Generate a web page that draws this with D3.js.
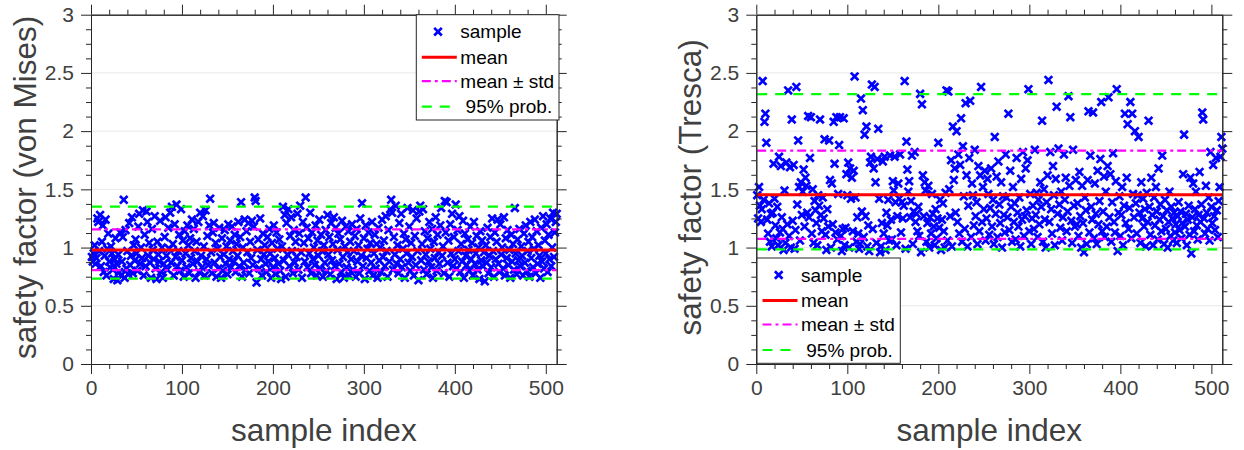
<!DOCTYPE html>
<html>
<head>
<meta charset="utf-8">
<script src="https://cdn.jsdelivr.net/npm/d3@7"></script>
<style>
  body { margin: 0; background: #fff; }
  svg { display: block; font-family: "Liberation Sans", Arial, Helvetica, sans-serif; }
</style>
</head>
<body>
<svg id="chart" width="1244" height="450"></svg>
<script>
// samples, index 1..512
const vonMises = [
  0.92,0.88,0.95,1.02,0.86,0.91,1.25,1.22,0.97,1.28,0.84,1.05,1.19,0.79,0.93,1.24,
  0.76,0.99,1.12,0.88,0.83,1.01,0.95,0.81,0.73,0.90,1.08,0.86,0.72,0.94,0.79,1.13,
  0.76,0.88,1.09,1.41,0.74,1.15,0.82,0.97,0.77,1.21,0.85,0.93,1.26,0.78,1.02,0.89,
  1.07,0.95,0.80,1.18,1.29,0.86,1.00,0.91,1.32,0.76,1.11,0.84,1.31,1.22,0.93,1.04,
  0.87,0.74,1.16,0.98,0.90,1.27,0.82,0.73,1.05,0.94,0.88,1.23,0.79,1.00,0.74,0.86,
  1.09,1.26,0.93,0.81,1.17,0.99,1.30,0.87,1.35,1.03,0.76,1.20,0.92,1.37,0.84,0.97,
  1.11,0.80,1.33,0.89,1.06,0.75,1.14,0.95,0.83,1.19,1.02,0.78,1.08,0.91,1.24,0.86,
  1.16,0.97,0.74,1.05,0.88,1.22,0.79,1.30,0.93,0.83,1.27,1.01,0.76,1.32,0.90,1.10,
  0.85,1.19,1.42,0.96,0.78,1.13,1.21,0.87,1.04,0.75,0.99,0.82,1.17,0.92,0.74,1.08,
  0.80,0.94,1.15,0.86,1.01,0.77,1.20,0.90,1.06,0.83,1.18,0.97,0.88,1.11,0.79,1.03,
  0.93,1.22,0.84,1.09,1.39,0.75,1.00,0.87,1.24,0.81,1.14,0.96,1.21,0.78,1.05,0.91,
  1.23,0.85,1.18,1.43,1.40,0.70,0.98,1.07,0.82,1.25,0.90,0.76,1.12,0.94,1.02,0.86,
  0.79,1.09,0.88,1.16,0.95,0.74,1.04,0.83,1.19,0.91,0.77,1.13,0.99,0.86,1.07,0.80,
  0.73,1.01,1.35,0.89,1.28,0.75,1.21,0.94,1.33,0.84,1.10,1.26,0.97,0.78,1.15,0.87,
  1.05,0.92,1.29,0.81,1.12,1.36,0.96,0.74,1.22,1.04,0.88,1.43,1.17,0.83,1.08,0.95,
  1.30,0.78,1.13,0.90,1.00,0.85,1.19,0.76,1.06,0.93,1.24,0.82,1.11,0.97,0.75,1.02,
  0.87,1.15,0.80,1.28,0.94,1.09,0.77,1.21,0.89,1.03,1.26,0.84,1.17,0.73,0.98,1.12,
  0.86,1.07,0.79,1.23,0.92,0.74,1.01,1.18,0.83,0.96,1.14,0.76,1.05,0.90,1.20,0.81,
  0.97,1.10,0.75,1.16,0.88,1.02,0.78,1.25,0.93,1.38,0.84,1.08,0.73,1.19,0.91,0.99,
  1.13,0.80,1.04,0.87,1.22,0.76,0.95,1.11,0.82,1.03,0.74,1.17,0.89,1.00,0.79,1.24,
  0.92,1.06,0.84,1.27,0.97,0.75,1.15,0.88,1.33,1.41,1.30,0.81,1.09,0.94,1.36,0.86,
  1.02,0.78,1.21,0.90,1.29,0.83,0.99,1.12,0.74,1.07,0.95,1.34,0.87,1.18,0.80,1.04,
  0.92,1.32,0.76,1.10,0.85,1.25,0.97,0.72,1.31,1.36,0.89,1.03,1.33,0.81,1.14,0.94,
  0.77,1.08,0.88,1.22,0.99,0.83,1.16,0.74,1.05,0.91,1.26,0.80,1.11,0.96,0.86,1.19,
  1.34,0.93,1.01,0.78,1.40,1.13,1.39,0.87,1.06,0.75,1.20,0.95,1.29,0.84,1.09,0.90,
  1.37,0.82,1.15,0.97,1.27,0.79,1.03,0.88,1.23,0.74,1.12,0.93,0.85,1.07,0.98,0.80,
  1.18,0.90,1.04,0.76,1.22,0.86,0.95,1.10,0.81,1.00,0.73,1.14,0.89,1.06,0.84,0.96,
  0.71,1.02,0.87,1.17,0.78,0.93,1.09,0.83,1.25,0.97,0.75,1.13,0.90,1.05,1.24,0.86,
  0.79,1.20,0.94,1.00,0.82,1.26,0.76,1.08,0.91,1.15,0.85,0.98,0.74,1.11,0.88,1.03,
  0.81,1.34,0.95,0.77,1.07,0.89,1.16,0.84,1.01,0.93,0.76,1.12,0.87,1.19,0.80,0.97,
  1.05,0.75,1.22,0.91,1.09,0.83,0.99,1.24,0.78,1.14,0.86,1.02,0.93,0.74,1.17,0.88,
  1.27,0.82,1.06,0.95,1.20,0.79,1.11,0.90,1.25,0.84,1.00,1.30,0.92,1.13,1.22,1.29
];

const tresca = [
  1.45,1.25,1.52,1.36,1.22,1.33,2.43,1.41,2.08,2.15,1.90,1.24,1.12,1.38,1.05,1.29,
  1.01,1.30,1.72,1.42,1.19,1.08,1.35,1.02,1.78,1.13,1.70,1.26,1.16,0.98,1.49,1.04,
  1.73,1.20,2.35,1.10,1.69,1.00,2.10,1.23,1.71,0.99,1.15,2.38,1.37,1.92,1.52,1.06,
  1.56,1.28,1.48,1.67,1.18,1.60,1.53,1.30,2.13,1.26,1.77,2.12,1.12,1.50,1.04,1.40,
  1.32,1.21,1.02,1.45,1.36,2.10,1.28,1.14,1.43,1.25,1.93,1.11,0.98,1.33,1.18,1.92,
  1.58,1.00,1.55,1.20,2.08,1.72,1.13,2.12,1.07,1.46,1.88,2.12,1.10,0.97,1.16,2.11,
  1.02,1.17,1.63,1.45,1.73,1.00,1.68,1.42,1.60,1.14,1.66,2.47,1.43,1.05,1.26,1.12,
  0.99,1.03,2.28,1.31,2.18,1.09,1.97,1.27,2.04,1.01,1.19,0.97,1.73,1.78,2.40,1.16,
  1.68,2.38,1.56,1.04,1.76,2.02,1.42,0.96,1.01,1.21,1.74,1.12,1.78,0.98,1.30,1.19,
  1.41,1.06,1.79,1.24,1.07,1.57,1.49,1.78,1.39,1.02,1.27,1.55,1.42,1.80,1.13,1.39,
  1.25,1.36,2.43,0.99,1.91,1.67,1.48,1.57,1.26,1.40,1.79,1.03,1.31,1.82,1.22,1.29,
  1.14,1.35,1.10,2.32,0.96,2.23,1.62,1.27,1.56,1.49,1.05,1.21,1.53,1.00,1.26,1.12,
  1.46,1.29,1.18,1.02,1.33,1.08,1.25,1.90,1.17,1.41,0.98,1.24,1.38,1.14,1.00,1.47,
  2.35,1.06,2.34,1.50,1.27,1.75,1.01,2.04,1.58,1.68,1.30,2.00,1.22,1.80,1.12,1.71,
  2.11,1.05,1.87,1.44,1.16,2.24,1.62,1.01,1.36,1.77,2.26,1.09,1.55,1.45,1.19,1.84,
  1.27,1.39,1.03,1.70,1.14,1.62,2.38,1.22,1.52,1.33,1.66,1.06,1.25,1.59,1.46,1.11,
  1.34,1.68,1.18,1.41,1.03,1.95,1.29,1.61,1.09,1.74,1.37,1.21,1.56,1.00,1.44,1.28,
  1.13,1.80,1.43,1.26,2.15,1.15,1.66,1.35,1.05,1.52,1.22,1.38,1.07,1.77,1.30,1.18,
  1.43,1.01,1.59,1.24,1.82,1.10,1.27,1.68,1.32,1.75,2.36,1.14,1.46,1.03,1.25,1.36,
  1.16,1.84,1.28,1.47,1.09,1.41,1.20,1.56,1.35,2.09,1.05,1.50,1.24,1.00,1.39,1.62,
  2.44,1.22,1.82,1.33,1.12,1.70,1.45,1.02,1.59,2.21,1.29,1.85,1.37,1.17,1.48,1.06,
  1.26,1.80,1.41,1.60,1.14,1.31,2.30,1.53,2.12,1.23,1.04,1.84,1.36,1.18,1.58,1.20,
  1.38,1.10,1.65,1.27,1.00,1.53,1.21,0.96,1.43,1.32,1.03,1.58,2.17,1.13,1.79,1.35,
  1.24,2.16,1.08,1.55,1.29,1.03,1.66,1.20,1.40,1.76,2.25,1.14,1.31,1.61,1.09,1.48,
  1.18,1.70,2.29,1.26,1.63,1.05,1.39,1.81,1.22,1.13,1.57,2.36,0.97,1.30,1.44,1.10,
  1.28,1.52,1.02,1.36,2.15,1.21,1.60,2.06,1.16,1.34,2.25,1.08,2.15,1.46,1.26,2.00,
  1.38,1.12,1.45,1.95,1.30,1.04,1.56,1.25,1.42,1.18,1.33,1.01,1.47,1.22,2.09,1.35,
  1.11,1.60,1.28,1.02,1.43,1.19,1.52,1.31,1.07,1.68,1.24,1.37,1.14,1.79,1.27,1.03,
  1.41,1.16,1.32,1.00,1.22,1.48,1.10,1.35,1.25,1.06,1.30,1.13,1.20,1.04,1.27,1.39,
  1.15,1.31,1.08,1.21,1.63,1.97,1.18,1.29,1.02,1.24,1.36,1.11,1.60,0.95,1.26,1.55,
  1.14,1.33,1.48,1.19,1.07,1.28,1.65,1.22,1.37,2.16,2.10,1.25,1.12,1.53,1.30,1.16,
  1.43,1.06,1.82,1.35,1.21,1.71,1.27,1.15,1.77,1.32,1.09,1.40,1.52,1.78,1.95,1.85
];

// [mean, mean-std, mean+std, 2.5%, 97.5%]
const vonMisesStats = [0.979, 0.807, 1.157, 0.733, 1.351];
const trescaStats = [1.454, 1.074, 1.832, 0.985, 2.317];

const yTicks = [0, 0.5, 1, 1.5, 2, 2.5, 3];
const xTicks = [0, 100, 200, 300, 400, 500];
const legendLabels = ["sample", "mean", "mean \u00b1 std", " 95% prob."];
const yLabels = ["safety factor (von Mises)", "safety factor (Tresca)"];

const svg = d3.select("#chart");
const axisColor = "#262626";
const textColor = "#404040";

function cross(cx, cy, s) {
  return `M${cx - s},${cy - s}L${cx + s},${cy + s}M${cx - s},${cy + s}L${cx + s},${cy - s}`;
}

function drawPanel(opts) {
  const { left, top, width, height, values, stats, yLabel, yLabelX, legend } = opts;
  const g = svg.append("g");

  const x = d3.scaleLinear().domain([0, 512]).range([left, left + width]);
  const y = d3.scaleLinear().domain([0, 3]).range([top + height, top]);

  // grid
  g.append("g").selectAll("line")
    .data(yTicks.slice(1, -1))
    .join("line")
    .attr("x1", left).attr("x2", left + width)
    .attr("y1", d => y(d)).attr("y2", d => y(d))
    .attr("stroke", "#e8e8e8").attr("stroke-width", 1);

  // data
  const pts = values.map((v, i) => ({ i: i + 1, v: v }));
  g.append("g").selectAll("path")
    .data(pts)
    .join("path")
    .attr("d", d => cross(x(d.i), y(d.v), 3.8))
    .attr("stroke", "#0000ff")
    .attr("stroke-width", 2.7)
    .attr("fill", "none");

  // stat lines
  const styles = [
    { c: "#ff0000", w: 3, dash: null },
    { c: "#ff00ff", w: 2.2, dash: "9,4,3,4" },
    { c: "#ff00ff", w: 2.2, dash: "9,4,3,4" },
    { c: "#00ff00", w: 2.2, dash: "10,8" },
    { c: "#00ff00", w: 2.2, dash: "10,8" }
  ];
  const order = [3, 4, 1, 2, 0];
  order.forEach(k => {
    g.append("line")
      .attr("x1", x(1)).attr("x2", x(512))
      .attr("y1", y(stats[k])).attr("y2", y(stats[k]))
      .attr("stroke", styles[k].c)
      .attr("stroke-width", styles[k].w)
      .attr("stroke-dasharray", styles[k].dash);
  });

  // axes with major and minor ticks on all four sides
  const xMinor = d3.range(0, 513, 20).filter(d => d % 100 !== 0);
  const yMinor = d3.range(0, 3.001, 0.125).filter(d => Math.abs(d * 2 - Math.round(d * 2)) > 1e-6);

  const axB = d3.axisBottom(x).tickValues(xTicks).tickSize(10).tickSizeOuter(0).tickPadding(6).tickFormat(d3.format("d"));
  const axT = d3.axisTop(x).tickValues(xTicks).tickSize(10).tickSizeOuter(0).tickFormat("");
  const axL = d3.axisLeft(y).tickValues(yTicks).tickSize(10).tickSizeOuter(0).tickPadding(7).tickFormat(d => d);
  const axR = d3.axisRight(y).tickValues(yTicks).tickSize(10).tickSizeOuter(0).tickFormat("");

  const mB = d3.axisBottom(x).tickValues(xMinor).tickSize(5).tickSizeOuter(0).tickFormat("");
  const mT = d3.axisTop(x).tickValues(xMinor).tickSize(5).tickSizeOuter(0).tickFormat("");
  const mL = d3.axisLeft(y).tickValues(yMinor).tickSize(5).tickSizeOuter(0).tickFormat("");
  const mR = d3.axisRight(y).tickValues(yMinor).tickSize(5).tickSizeOuter(0).tickFormat("");

  const place = [
    [axB, `translate(0,${top + height})`], [mB, `translate(0,${top + height})`],
    [axT, `translate(0,${top})`], [mT, `translate(0,${top})`],
    [axL, `translate(${left},0)`], [mL, `translate(${left},0)`],
    [axR, `translate(${left + width},0)`], [mR, `translate(${left + width},0)`]
  ];
  place.forEach(([ax, tr]) => {
    const a = g.append("g").attr("transform", tr).call(ax);
    a.selectAll("path, line").attr("stroke", axisColor).attr("stroke-width", 1);
    a.selectAll("text").attr("fill", textColor).style("font-size", "21px");
  });

  // axis labels
  g.append("text")
    .attr("x", left + width / 2)
    .attr("y", 441)
    .attr("text-anchor", "middle")
    .attr("fill", textColor)
    .style("font-size", "31.5px")
    .text("sample index");

  g.append("text")
    .attr("transform", `translate(${yLabelX},${top + height / 2 - 2}) rotate(-90)`)
    .attr("text-anchor", "middle")
    .attr("fill", textColor)
    .style("font-size", "31.5px")
    .text(yLabel);

  // legend
  const lg = g.append("g").attr("transform", `translate(${legend.x},${legend.y})`);
  lg.append("rect")
    .attr("width", legend.w).attr("height", legend.h)
    .attr("fill", "#fff").attr("stroke", "#262626").attr("stroke-width", 1);
  const rowY = [17, 42.5, 66.5, 92];
  const ls = [null, styles[0], styles[1], styles[3]];
  legendLabels.forEach((lab, k) => {
    const ry = rowY[k];
    if (k === 0) {
      lg.append("path")
        .attr("d", cross(21.7, ry, 3.8))
        .attr("stroke", "#0000ff").attr("stroke-width", 2.7);
    } else {
      lg.append("line")
        .attr("x1", 5.5).attr("x2", 40.5)
        .attr("y1", ry).attr("y2", ry)
        .attr("stroke", ls[k].c)
        .attr("stroke-width", ls[k].w)
        .attr("stroke-dasharray", ls[k].dash);
    }
    lg.append("text")
      .attr("x", 44)
      .attr("y", ry + 6.5)
      .attr("fill", "#000")
      .style("font-size", "19px")
      .style("white-space", "pre")
      .text(lab);
  });
}

drawPanel({
  left: 91, top: 14.7, width: 465.7, height: 349.3,
  values: vonMises, stats: vonMisesStats, yLabel: yLabels[0], yLabelX: 36,
  legend: { x: 416.3, y: 14.7, w: 142.7, h: 105.3 }
});

drawPanel({
  left: 756.3, top: 14.7, width: 466, height: 349.3,
  values: tresca, stats: trescaStats, yLabel: yLabels[1], yLabelX: 701,
  legend: { x: 757, y: 258, w: 143.3, h: 105.3 }
});
</script>
</body>
</html>
